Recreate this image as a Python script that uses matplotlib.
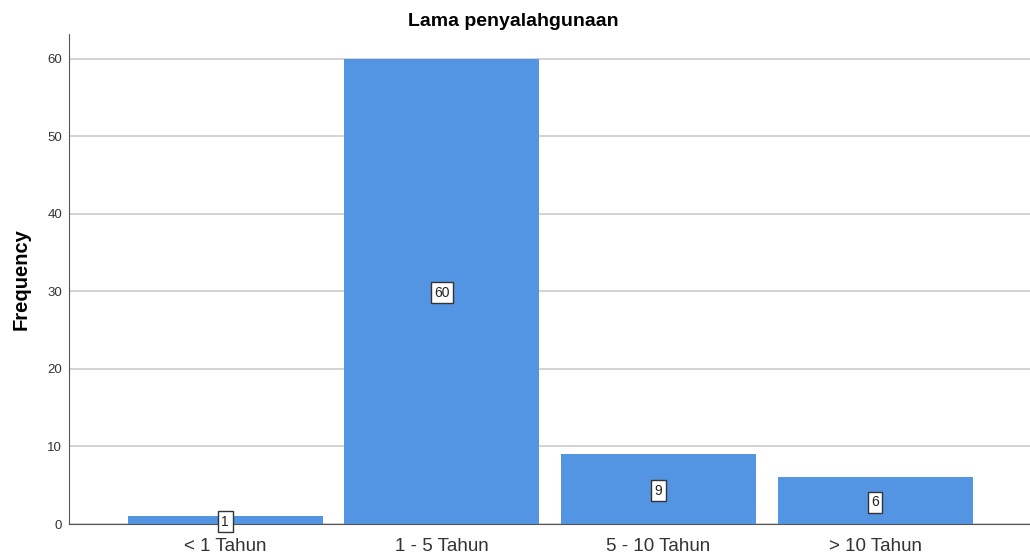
import matplotlib.pyplot as plt
import numpy as np

plt.rcParams["font.family"] = ["Liberation Sans", "DejaVu Sans"]

categories = ["< 1 Tahun", "1 - 5 Tahun", "5 - 10 Tahun", "> 10 Tahun"]
frequency = [1, 60, 9, 6]

bar_color = "#5495E3"

fig = plt.figure(figsize=(10.30, 5.59), dpi=100)
ax = fig.add_axes([0.067, 0.0626, 0.933, 0.8766])

x = np.arange(len(categories))
ax.bar(x, frequency, width=0.9, color=bar_color, zorder=2)

for xi, v in zip(x, frequency):
    ax.text(xi, v / 2, str(v), ha="center", va="center_baseline", fontsize=10,
            color="#222222", zorder=3,
            bbox=dict(boxstyle="square,pad=0.25", facecolor="white",
                      edgecolor="#333333", linewidth=1))

ax.set_xlim(-0.7216, 3.715)
ax.set_ylim(0, 63.2)
ax.set_yticks([0, 10, 20, 30, 40, 50, 60])
ax.set_xticks(x)
ax.set_xticklabels(categories, fontsize=13.5, color="#333333")
ax.tick_params(axis="y", labelsize=9.5, length=0, pad=5, colors="#333333")
ax.tick_params(axis="x", length=0, pad=10)

ax.grid(axis="y", color="#cccccc", linewidth=1.2, zorder=0)
for side in ["top", "right"]:
    ax.spines[side].set_visible(False)
ax.spines["left"].set_color("#555555")
ax.spines["bottom"].set_color("#555555")

ax.set_ylabel("Frequency", fontsize=14.5, fontweight="bold", labelpad=12)
fig.text(0.4985, 0.962, "Lama penyalahgunaan", ha="center", va="center",
         fontsize=14, fontweight="bold")

plt.savefig("out.png", dpi=100)
